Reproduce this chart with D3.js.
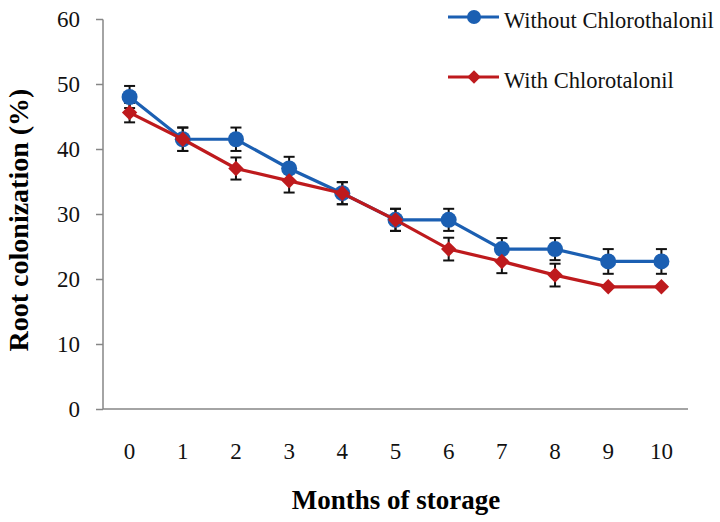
<!DOCTYPE html>
<html>
<head>
<meta charset="utf-8">
<script src="https://cdn.jsdelivr.net/npm/d3@7"></script>
<style>
  body { margin: 0; background: #fff; }
  svg, svg text { font-family: "Liberation Serif", "Times New Roman", Times, serif !important; }
</style>
</head>
<body>
<div id="chart"></div>
<script>
// data
const months = [0, 1, 2, 3, 4, 5, 6, 7, 8, 9, 10];
const withoutChloro = [48, 41.5, 41.5, 37, 33.2, 29.1, 29.1, 24.6, 24.6, 22.7, 22.7];
const withoutErr = [1.7, 1.8, 1.8, 1.8, 1.7, 1.7, 1.7, 1.7, 1.7, 1.9, 1.9];
const withChloro = [45.6, 41.5, 37, 35.1, 33.2, 29.1, 24.6, 22.7, 20.6, 18.8, 18.8];
const withErr = [1.5, 1.8, 1.7, 1.8, 1.7, 1.7, 1.75, 1.8, 1.75, 0, 0];
const yTicks = [0, 10, 20, 30, 40, 50, 60];

const series = [
  { name: "Without Chlorothalonil", values: withoutChloro, err: withoutErr, color: "#1b5fb2", marker: "circle" },
  { name: "With Chlorotalonil", values: withChloro, err: withErr, color: "#be1a1d", marker: "diamond" }
];

const W = 720, H = 522;
const margin = { top: 19, right: 32, bottom: 113, left: 103 };
const width = W - margin.left - margin.right,
  height = H - margin.top - margin.bottom;
const serif = '"Liberation Serif", "Times New Roman", serif';

const svg = d3.select("#chart").append("svg")
  .attr("width", W)
  .attr("height", H)
  .style("font-family", serif);

const g = svg.append("g")
  .attr("transform", `translate(${margin.left},${margin.top})`);

const x = d3.scaleBand().domain(months).range([0, width]);
const y = d3.scaleLinear().domain([0, 60]).range([height, 0]);
const cx = (i) => x(months[i]) + x.bandwidth() / 2;

// y axis
const yAxis = g.append("g")
  .call(d3.axisLeft(y).tickValues(yTicks).tickSize(7).tickPadding(16))
  .attr("font-family", null)
  .attr("font-size", 23);
yAxis.selectAll("line, path").attr("stroke", "#868686").attr("stroke-width", 1.5);
yAxis.select(".domain").attr("d", `M0,${height}V0.5`);
yAxis.selectAll("text").style("font-family", serif).attr("fill", "#111");

// x axis (no tick marks)
const xAxis = g.append("g")
  .attr("transform", `translate(0,${height})`)
  .call(d3.axisBottom(x).tickSize(0).tickPadding(34))
  .attr("font-family", null)
  .attr("font-size", 23);
xAxis.select(".domain").attr("stroke", "#868686").attr("stroke-width", 1.5)
  .attr("d", `M0,0H${width}`);
xAxis.selectAll("text").style("font-family", serif).attr("fill", "#111");

// axis titles
svg.append("text")
  .attr("x", 396)
  .attr("y", 509)
  .attr("text-anchor", "middle")
  .attr("font-weight", "bold")
  .attr("font-size", 27)
  .text("Months of storage");

svg.append("text")
  .attr("transform", "translate(28,220) rotate(-90)")
  .attr("text-anchor", "middle")
  .attr("font-weight", "bold")
  .attr("font-size", 28)
  .text("Root colonization (%)");

const line = d3.line()
  .x((d, i) => cx(i))
  .y((d) => y(d));

const diamond = d3.symbol().type(d3.symbolSquare).size(118);

const drawMarker = (sel, s) => {
  if (s.marker === "circle") {
    sel.append("circle").attr("r", 8).attr("fill", s.color);
  } else {
    sel.append("path").attr("d", diamond()).attr("transform", "rotate(45)").attr("fill", s.color);
  }
};

// error bars first, so markers sit on top
series.forEach((s) => {
  const eb = g.append("g").attr("stroke", "#111").attr("stroke-width", 2);
  s.values.forEach((v, i) => {
    if (!s.err[i]) return;
    const x0 = cx(i), y1 = y(v + s.err[i]), y2 = y(v - s.err[i]);
    eb.append("line").attr("x1", x0).attr("x2", x0).attr("y1", y1).attr("y2", y2);
    eb.append("line").attr("x1", x0 - 5.5).attr("x2", x0 + 5.5).attr("y1", y1).attr("y2", y1);
    eb.append("line").attr("x1", x0 - 5.5).attr("x2", x0 + 5.5).attr("y1", y2).attr("y2", y2);
  });
});

series.forEach((s) => {
  g.append("path")
    .datum(s.values)
    .attr("fill", "none")
    .attr("stroke", s.color)
    .attr("stroke-width", 3.2)
    .attr("d", line);

  g.selectAll(null)
    .data(s.values)
    .join("g")
    .attr("transform", (d, i) => `translate(${cx(i)},${y(d)})`)
    .each(function () { drawMarker(d3.select(this), s); });
});

// legend
const legend = svg.append("g");
series.forEach((s, i) => {
  const ly = 17 + i * 60;
  const item = legend.append("g");
  item.append("line")
    .attr("x1", 448).attr("x2", 499)
    .attr("y1", ly).attr("y2", ly)
    .attr("stroke", s.color).attr("stroke-width", 3.2);
  const m = item.append("g").attr("transform", `translate(474,${ly})`);
  if (s.marker === "circle") {
    m.append("circle").attr("r", 7).attr("fill", s.color);
  } else {
    m.append("path").attr("d", d3.symbol().type(d3.symbolSquare).size(90)()).attr("transform", "rotate(45)").attr("fill", s.color);
  }
  item.append("text")
    .attr("x", 504)
    .attr("y", ly + 11)
    .attr("font-size", 22.5)
    .attr("fill", "#111")
    .text(s.name);
});
</script>
</body>
</html>
